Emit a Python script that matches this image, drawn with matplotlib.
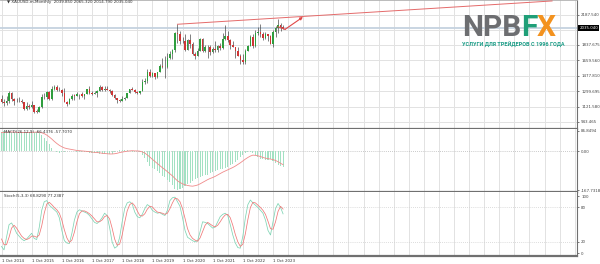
import matplotlib
matplotlib.use("Agg")
import matplotlib.pyplot as plt
import numpy as np

# monthly XAUUSD bars, 1 Oct 2014 .. 1 Feb 2024
opens = [1211, 1171, 1167, 1184, 1283, 1213, 1183, 1184, 1190, 1172, 1095, 1132,
         1115, 1142, 1064, 1061, 1118, 1238, 1233, 1292, 1214, 1321, 1351, 1309,
         1316, 1275, 1173, 1151, 1211, 1249, 1247, 1268, 1266, 1242, 1269, 1322,
         1280, 1271, 1275, 1303, 1345, 1318, 1325, 1315, 1299, 1252, 1224, 1201,
         1192, 1215, 1222, 1282, 1321, 1313, 1292, 1283, 1305, 1409, 1413, 1520,
         1472, 1513, 1464, 1517, 1589, 1585, 1577, 1686, 1730, 1781, 1975, 1967,
         1886, 1878, 1776, 1898, 1847, 1734, 1708, 1769, 1906, 1770, 1814, 1813,
         1757, 1783, 1774, 1829, 1797, 1909, 1937, 1897, 1837, 1807, 1766, 1711,
         1661, 1633, 1768, 1824, 1928, 1827, 1969, 1990, 1963, 1919, 1965, 1940,
         1849, 1983, 2036, 2063, 2039.85]
highs = [1255, 1208, 1239, 1307, 1291, 1224, 1224, 1232, 1205, 1178, 1170, 1157,
         1191, 1142, 1088, 1124, 1263, 1283, 1303, 1304, 1362, 1375, 1367, 1352,
         1325, 1338, 1183, 1220, 1264, 1262, 1296, 1271, 1296, 1272, 1331, 1357,
         1306, 1299, 1309, 1366, 1361, 1356, 1365, 1326, 1309, 1265, 1224, 1214,
         1243, 1237, 1284, 1326, 1347, 1325, 1302, 1306, 1439, 1453, 1555, 1557,
         1518, 1516, 1525, 1611, 1689, 1704, 1747, 1765, 1789, 1983, 2075, 1992,
         1933, 1965, 1906, 1959, 1872, 1755, 1798, 1913, 1917, 1834, 1832, 1834,
         1814, 1877, 1831, 1853, 1974, 2070, 1998, 1910, 1880, 1814, 1808, 1735,
         1730, 1786, 1833, 1949, 1959, 2009, 2048, 2079, 1983, 1987, 1966, 1953,
         2009, 2052, 2135, 2088, 2065.32]
lows = [1161, 1131, 1142, 1167, 1191, 1142, 1170, 1169, 1162, 1077, 1080, 1098,
        1111, 1052, 1046, 1061, 1107, 1208, 1207, 1199, 1200, 1310, 1302, 1305,
        1241, 1171, 1123, 1146, 1200, 1195, 1242, 1214, 1236, 1204, 1266, 1271,
        1261, 1264, 1236, 1302, 1307, 1303, 1314, 1282, 1245, 1211, 1160, 1180,
        1183, 1196, 1221, 1275, 1311, 1281, 1266, 1266, 1301, 1382, 1400, 1460,
        1459, 1445, 1454, 1517, 1563, 1451, 1567, 1670, 1671, 1757, 1863, 1848,
        1860, 1764, 1775, 1802, 1717, 1677, 1704, 1766, 1750, 1751, 1688, 1721,
        1746, 1758, 1753, 1780, 1786, 1890, 1872, 1787, 1806, 1681, 1709, 1615,
        1617, 1616, 1765, 1823, 1804, 1810, 1949, 1932, 1893, 1903, 1885, 1846,
        1810, 1932, 1973, 2002, 2014.79]
closes = [1171, 1167, 1184, 1283, 1213, 1183, 1184, 1190, 1172, 1095, 1132, 1115,
          1142, 1064, 1061, 1118, 1238, 1233, 1292, 1214, 1321, 1351, 1309, 1316,
          1275, 1173, 1151, 1211, 1249, 1247, 1268, 1266, 1242, 1269, 1322, 1280,
          1271, 1275, 1303, 1345, 1318, 1325, 1315, 1299, 1252, 1224, 1201, 1192,
          1215, 1222, 1282, 1321, 1313, 1292, 1283, 1305, 1409, 1413, 1520, 1472,
          1513, 1464, 1517, 1589, 1585, 1577, 1686, 1730, 1781, 1975, 1967, 1886,
          1878, 1776, 1898, 1847, 1734, 1708, 1769, 1906, 1770, 1814, 1813, 1757,
          1783, 1774, 1829, 1797, 1909, 1937, 1897, 1837, 1807, 1766, 1711, 1661,
          1633, 1768, 1824, 1928, 1827, 1969, 1990, 1963, 1919, 1965, 1940, 1849,
          1983, 2036, 2063, 2040, 2035.04]

# MACD(26,12,9): main (histogram) and signal
macd_main = [84, 85, 86, 82, 80, 80, 79, 78, 78, 80, 82, 83,
             82, 83, 84, 80, 68, 55, 42, 32, 15, 2, -4, -6,
             -5, -2, 2, 2, 0, -1, -2, -3, -3, -3, -5, -7,
             -8, -8, -8, -11, -12, -13, -14, -13, -10, -5, 0, 3,
             5, 6, 4, 0, -2, -2, -1, -2, -15, -28, -48, -62,
             -72, -78, -84, -95, -105, -110, -122, -133, -143, -160, -167.7, -163,
             -158, -150, -142, -135, -128, -120, -115, -112, -108, -104, -100, -95,
             -90, -86, -82, -78, -75, -72, -66, -60, -55, -46, -36, -26,
             -16, -9, -5, -4, -8, -17, -26, -32, -35, -36, -37, -35,
             -42, -50, -58, -63, -66.44]
macd_signal = [80, 80, 81, 82, 82, 82, 81, 80, 80, 80, 80, 80,
               81, 81, 82, 81, 79, 75, 69, 61, 52, 42, 33, 25,
               19, 14, 11, 9, 7, 5, 3, 2, 1, 0, -1, -2,
               -4, -5, -6, -7, -9, -10, -11, -12, -12, -11, -9, -6,
               -4, -2, 0, 1, 2, 1, 1, 0, -3, -8, -16, -25,
               -35, -44, -53, -62, -71, -79, -88, -97, -106, -117, -127, -134,
               -140, -144, -147, -149, -150, -148, -145, -140, -134, -128, -122, -117,
               -113, -108, -102, -96, -90, -85, -80, -75, -70, -64, -57, -50,
               -42, -34, -27, -21, -17, -18, -20, -23, -27, -30, -32, -34,
               -36, -40, -45, -52, -57.707]

# Stochastic(5,3,3)
stoch_main = [12, 6, 28, 50, 53, 45, 35, 30, 25, 22, 25, 30,
              35, 26, 24, 45, 75, 90, 92, 84, 80, 76, 72, 62,
              40, 22, 18, 17, 35, 58, 72, 76, 74, 72, 70, 66,
              60, 54, 52, 56, 62, 70, 66, 45, 20, 9, 12, 28,
              55, 78, 88, 90, 86, 72, 64, 62, 68, 78, 85, 82,
              75, 72, 70, 71, 68, 66, 75, 92, 97, 98, 90, 82,
              62, 40, 28, 25, 22, 20, 22, 38, 55, 54, 52, 48,
              44, 46, 55, 64, 68, 70, 66, 50, 32, 18, 10, 9,
              30, 62, 85, 93, 88, 84, 80, 75, 70, 58, 40, 32,
              55, 78, 87, 80, 68.829]
stoch_signal = [25, 15, 15, 28, 44, 49, 44, 37, 30, 26, 24, 26,
                30, 30, 28, 32, 48, 70, 86, 89, 85, 80, 76, 70,
                58, 41, 27, 19, 23, 37, 55, 69, 74, 74, 72, 69,
                65, 60, 55, 55, 58, 64, 66, 60, 44, 25, 14, 16,
                32, 54, 74, 85, 88, 83, 74, 66, 65, 69, 77, 82,
                81, 76, 72, 71, 70, 68, 70, 78, 88, 96, 95, 90,
                78, 61, 43, 32, 26, 23, 21, 27, 38, 49, 54, 51,
                48, 46, 49, 55, 62, 67, 68, 62, 49, 33, 20, 12,
                16, 34, 59, 80, 89, 88, 84, 80, 75, 68, 56, 43,
                42, 55, 73, 82, 77.2387]

date_labels = ["1 Oct 2014", "1 Oct 2015", "1 Oct 2016", "1 Oct 2017", "1 Oct 2018",
               "1 Oct 2019", "1 Oct 2020", "1 Oct 2021", "1 Oct 2022", "1 Oct 2023"]
price_ticks = [943.465, 1121.580, 1299.695, 1477.810, 1659.560, 1837.675, 2012.6, 2187.540]
last_price = 2035.04

# drawn objects: trend line and arrow (bar index, price)
trend_x = [70, 219]
trend_y = [2075, 2345]
arrow_x = [110, 112.8, 119.9]
arrow_y = [2046, 2016, 2159]

W, H = 600, 264
fig = plt.figure(figsize=(W / 100, H / 100), dpi=100)
fig.patch.set_facecolor("white")


def rect(x0, y0, x1, y1):
    return [x0 / W, 1 - y1 / H, (x1 - x0) / W, (y1 - y0) / H]


px_per_bar = 2.514
xmin = -1.5 / px_per_bar
xmax = (577 - 1.5) / px_per_bar
grid_c = "#e2e2e2"
frame_c = "#707070"
fs = 2.9

ax = fig.add_axes(rect(0, 0, 577, 129))
ax_m = fig.add_axes(rect(0, 129, 577, 192))
ax_s = fig.add_axes(rect(0, 192, 577, 256))

for a in (ax, ax_m, ax_s):
    a.set_xlim(xmin, xmax)
    a.set_xticks(np.arange(0, xmax, 6))
    a.grid(True, axis="x", color=grid_c, lw=0.7)
    a.set_axisbelow(True)
    a.tick_params(axis="x", length=0, labelbottom=False)
    a.tick_params(axis="y", length=1.5, width=0.5, colors="#444444", labelsize=fs,
                  pad=1.5, left=False, labelleft=False, right=True, labelright=True)
    for s in ("left", "top"):
        a.spines[s].set_visible(False)
    a.spines["right"].set_color(frame_c)
    a.spines["right"].set_linewidth(0.8)
    a.spines["bottom"].set_color(frame_c)
    a.spines["bottom"].set_linewidth(1.6)

# ---- price panel
ax.spines["top"].set_visible(True)
ax.spines["top"].set_color("#b0b0b0")
ax.spines["top"].set_linewidth(0.6)
ax.set_ylim(862, 2356)
ax.set_yticks(price_ticks)
ax.set_yticklabels(["%.3f" % p if abs(p - 2012.6) > 1 else "" for p in price_ticks])
ax.grid(True, axis="y", color=grid_c, lw=0.7)
ax.axhline(last_price, color="#c5d2df", lw=1.3, zorder=1)

idx = np.arange(len(opens))
o = np.array(opens, float)
c = np.array(closes, float)
up = c >= o
ax.vlines(idx, lows, highs, color="#3a3a3a", lw=0.45, zorder=2)
ax.bar(idx, np.maximum(np.abs(c - o), 4), bottom=np.minimum(o, c), width=0.62,
       color=np.where(up, "#2f9e3e", "#cf3535"), lw=0, zorder=3)

ax.plot(trend_x, trend_y, color="#e46a6a", lw=0.7, zorder=4)
ax.annotate("", xy=(arrow_x[2], arrow_y[2]), xytext=(arrow_x[1], arrow_y[1]),
            arrowprops=dict(arrowstyle="-|>", color="#e04848", lw=0.8,
                            mutation_scale=4, shrinkA=0, shrinkB=0), zorder=4)
ax.plot(arrow_x[:2], arrow_y[:2], color="#e04848", lw=0.8, zorder=4)

ax.text(2, 2352, "\u25bc XAUUSD-m,Monthly  2039.850 2065.320 2014.790 2035.040",
        fontsize=fs, color="#333333", va="top", ha="left")
ax.text(1.004, last_price, "2035.040", transform=ax.get_yaxis_transform(),
        fontsize=fs, color="white", va="center", ha="left",
        bbox=dict(boxstyle="square,pad=0.25", fc="black", ec="black", lw=0))

# ---- MACD panel
ax_m.set_ylim(-175, 95)
ax_m.set_yticks([86.8494, 0, -167.7318])
ax_m.set_yticklabels(["86.8494", "0.00", "-167.7318"])
ax_m.axhline(0, color="#b8b8b8", lw=0.6, ls=(0, (1, 1.5)), zorder=1)
ax_m.bar(idx, macd_main, width=0.42, color="#a3e1c3", lw=0, zorder=2)
ax_m.plot(idx, macd_signal, color="#f08a8a", lw=0.6, zorder=3)
ax_m.text(1, 92, "MACD(26,12,9) -66.4376 -57.7070", fontsize=fs, color="#333333",
          va="top", ha="left", zorder=5)

# ---- Stochastic panel
ax_s.set_ylim(-4.7, 107)
ax_s.set_yticks([100, 80, 20, 0])
ax_s.set_yticklabels(["100", "80", "20", "0"])
for lv in (80, 20):
    ax_s.axhline(lv, color="#d0d0d0", lw=0.6, ls=(0, (1, 1.5)), zorder=1)
ax_s.plot(idx, stoch_main, color="#7fd4b4", lw=0.55, zorder=3)
ax_s.plot(idx, stoch_signal, color="#f07777", lw=0.55, zorder=3)
ax_s.text(1, 104, "Stoch(5,3,3) 68.8290 77.2387", fontsize=fs, color="#333333",
          va="top", ha="left", zorder=5)

# date labels under the stochastic panel
for k, lab in enumerate(date_labels):
    xpx = 1.5 + 12 * k * px_per_bar
    fig.text(xpx / W, 1 - 261 / H, lab, fontsize=fs, color="#333333",
             ha="left", va="center")

# ---- logo
fig.canvas.draw()
r = fig.canvas.get_renderer()
logo_y = 1 - 36 / H
xcur = 462
for txt, col in (("NPB", "#6d6e71"), ("F", "#1f9f78"), ("X", "#f3921f")):
    t = fig.text(xcur / W, logo_y, txt, fontsize=21.5, fontweight="bold",
                 family="Roboto", color=col, ha="left", va="baseline")
    xcur = t.get_window_extent(r).x1 - 0.5
sub = fig.text(462 / W, 1 - 44 / H, "УСЛУГИ ДЛЯ ТРЕЙДЕРОВ С 1996 ГОДА", fontsize=4,
               fontweight="bold", family="Roboto", color="#1a9c86", ha="left", va="center")
wsub = sub.get_window_extent(r).width
sub.set_fontsize(4 * 101 / wsub)

fig.savefig("out.png", dpi=100, facecolor="white")
